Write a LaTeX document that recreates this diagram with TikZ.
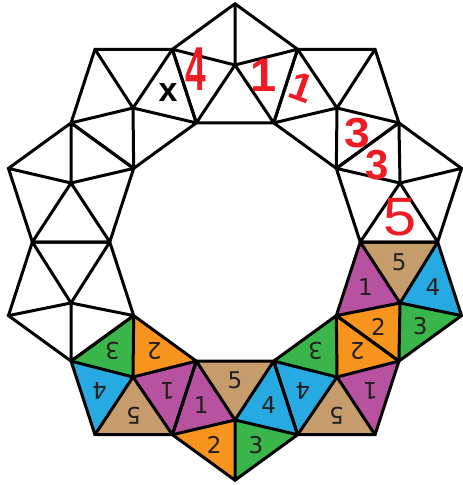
\documentclass[tikz,border=0pt]{standalone}
\usepackage{fontspec}
\setmainfont{DejaVu Sans}
\newfontfamily\handfont{Liberation Sans}
\definecolor{cpurple}{RGB}{183,82,161}
\definecolor{cbrown}{RGB}{198,156,109}
\definecolor{cblue}{RGB}{39,170,225}
\definecolor{corange}{RGB}{247,148,29}
\definecolor{cgreen}{RGB}{57,181,74}
\definecolor{numgray}{RGB}{35,31,32}
\definecolor{handred}{RGB}{237,28,36}
\begin{document}
\begin{tikzpicture}[x=1pt,y=-1pt,
  edge/.style={line width=3pt, line cap=round, line join=miter},
  num/.style={font=\fontsize{23}{23}\selectfont, text=numgray, inner sep=0pt},
  numr/.style={num, rotate=180},
  hand/.style={text=handred, inner sep=0pt}]
\useasboundingbox (0,0) rectangle (463,485);
% decagon vertices
\coordinate (D0) at (360.24,242);
\coordinate (D36) at (336.32,315.61);
\coordinate (D72) at (273.70,361.11);
\coordinate (D108) at (196.30,361.11);
\coordinate (D144) at (133.68,315.61);
\coordinate (D180) at (109.76,242);
\coordinate (D216) at (133.68,168.39);
\coordinate (D252) at (196.30,122.89);
\coordinate (D288) at (273.70,122.89);
\coordinate (D324) at (336.32,168.39);
% shared outer vertices
\coordinate (S0) at (437.64,242);
\coordinate (S36) at (398.94,361.11);
\coordinate (S72) at (297.62,434.72);
\coordinate (S108) at (172.38,434.72);
\coordinate (S144) at (71.06,361.11);
\coordinate (S180) at (32.36,242);
\coordinate (S216) at (71.06,122.89);
\coordinate (S252) at (172.38,49.28);
\coordinate (S288) at (297.62,49.28);
\coordinate (S324) at (398.94,122.89);
% apexes
\coordinate (A18) at (461.55,315.61);
\coordinate (A54) at (375.02,434.72);
\coordinate (A90) at (235,480.21);
\coordinate (A126) at (94.98,434.72);
\coordinate (A162) at (8.45,315.61);
\coordinate (A198) at (8.45,168.39);
\coordinate (A234) at (94.98,49.28);
\coordinate (A270) at (235,3.79);
\coordinate (A306) at (375.02,49.28);
\coordinate (A342) at (461.55,168.39);
% pentagon centres
\coordinate (P18) at (400,303);
\coordinate (P54) at (337,377);
\coordinate (P90) at (235,420);
\coordinate (P126) at (133,377);
\coordinate (P162) at (71,303);
\coordinate (P198) at (71,183);
\coordinate (P234) at (133,108);
\coordinate (P270) at (235,65);
\coordinate (P306) at (337,108);
\coordinate (P342) at (400,183);
% fills
\fill[cbrown]  (P18) -- (D0) -- (S0) -- cycle;
\fill[cblue]   (P18) -- (S0) -- (A18) -- cycle;
\fill[cgreen]  (P18) -- (A18) -- (S36) -- cycle;
\fill[corange] (P18) -- (S36) -- (D36) -- cycle;
\fill[cpurple] (P18) -- (D36) -- (D0) -- cycle;
\fill[corange] (P54) -- (D36) -- (S36) -- cycle;
\fill[cpurple] (P54) -- (S36) -- (A54) -- cycle;
\fill[cbrown]  (P54) -- (A54) -- (S72) -- cycle;
\fill[cblue]   (P54) -- (S72) -- (D72) -- cycle;
\fill[cgreen]  (P54) -- (D72) -- (D36) -- cycle;
\fill[cbrown]  (P90) -- (D108) -- (D72) -- cycle;
\fill[cblue]   (P90) -- (D72) -- (S72) -- cycle;
\fill[cgreen]  (P90) -- (S72) -- (A90) -- cycle;
\fill[corange] (P90) -- (A90) -- (S108) -- cycle;
\fill[cpurple] (P90) -- (S108) -- (D108) -- cycle;
\fill[cpurple] (P126) -- (D108) -- (S108) -- cycle;
\fill[cbrown]  (P126) -- (S108) -- (A126) -- cycle;
\fill[cblue]   (P126) -- (A126) -- (S144) -- cycle;
\fill[cgreen]  (P126) -- (S144) -- (D144) -- cycle;
\fill[corange] (P126) -- (D144) -- (D108) -- cycle;
% edges
\foreach \p/\a/\b in {18/0/36, 54/36/72, 90/72/108, 126/108/144, 162/144/180,
  198/180/216, 234/216/252, 270/252/288, 306/288/324, 342/324/0}
  \draw[edge] (D\a) -- (D\b) -- (S\b) -- (A\p) -- (S\a) -- cycle
    (P\p) -- (D\a) (P\p) -- (D\b) (P\p) -- (S\a) (P\p) -- (S\b) (P\p) -- (A\p);
% numbers
\node[num] (n18a) at (barycentric cs:P18=1,D0=1,S0=1) {5};
\node[num] (n18b) at (barycentric cs:P18=1,S0=1,A18=1) {4};
\node[num] (n18c) at (barycentric cs:P18=1,A18=1,S36=1) {3};
\node[num] (n18d) at (barycentric cs:P18=1,S36=1,D36=1) {2};
\node[num] (n18e) at (barycentric cs:P18=1,D36=1,D0=1) {1};
\node[numr] (n54a) at (barycentric cs:P54=1,D36=1,S36=1) {2};
\node[numr] (n54b) at (barycentric cs:P54=1,S36=1,A54=1) {1};
\node[numr] (n54c) at (barycentric cs:P54=1,A54=1,S72=1) {5};
\node[numr] (n54d) at (barycentric cs:P54=1,S72=1,D72=1) {4};
\node[numr] (n54e) at (barycentric cs:P54=1,D72=1,D36=1) {3};
\node[num] (n90a) at (barycentric cs:P90=1,D108=1,D72=1) {5};
\node[num] (n90b) at (barycentric cs:P90=1,D72=1,S72=1) {4};
\node[num] (n90c) at (barycentric cs:P90=1,S72=1,A90=1) {3};
\node[num] (n90d) at (barycentric cs:P90=1,A90=1,S108=1) {2};
\node[num] (n90e) at (barycentric cs:P90=1,S108=1,D108=1) {1};
\node[numr] (n126a) at (barycentric cs:P126=1,D108=1,S108=1) {1};
\node[numr] (n126b) at (barycentric cs:P126=1,S108=1,A126=1) {5};
\node[numr] (n126c) at (barycentric cs:P126=1,A126=1,S144=1) {4};
\node[numr] (n126d) at (barycentric cs:P126=1,S144=1,D144=1) {3};
\node[numr] (n126e) at (barycentric cs:P126=1,D144=1,D108=1) {2};
% black x
\node[inner sep=0pt, font=\handfont\bfseries\fontsize{34}{34}\selectfont] (xmark) at (168,93) {x};
% red handwritten marks
\node[hand, font=\handfont\bfseries\fontsize{62}{62}\selectfont, xscale=0.6] (r4) at (196,69) {4};
\node[hand, font=\handfont\bfseries\fontsize{47}{47}\selectfont] (r1a) at (263.5,75) {1};
\node[hand, font=\handfont\bfseries\fontsize{40}{40}\selectfont, rotate=-20] (r1b) at (301.5,87.5) {1};
\node[hand, font=\handfont\bfseries\fontsize{42}{42}\selectfont, xscale=1.1] (r3a) at (357.5,133) {3};
\node[hand, font=\handfont\bfseries\fontsize{42}{42}\selectfont, xscale=1.0] (r3b) at (377.5,165) {3};
\node[hand, font=\handfont\fontsize{54}{54}\selectfont, xscale=1.1] (r5) at (400,217.5) {5};
\end{tikzpicture}
\end{document}
